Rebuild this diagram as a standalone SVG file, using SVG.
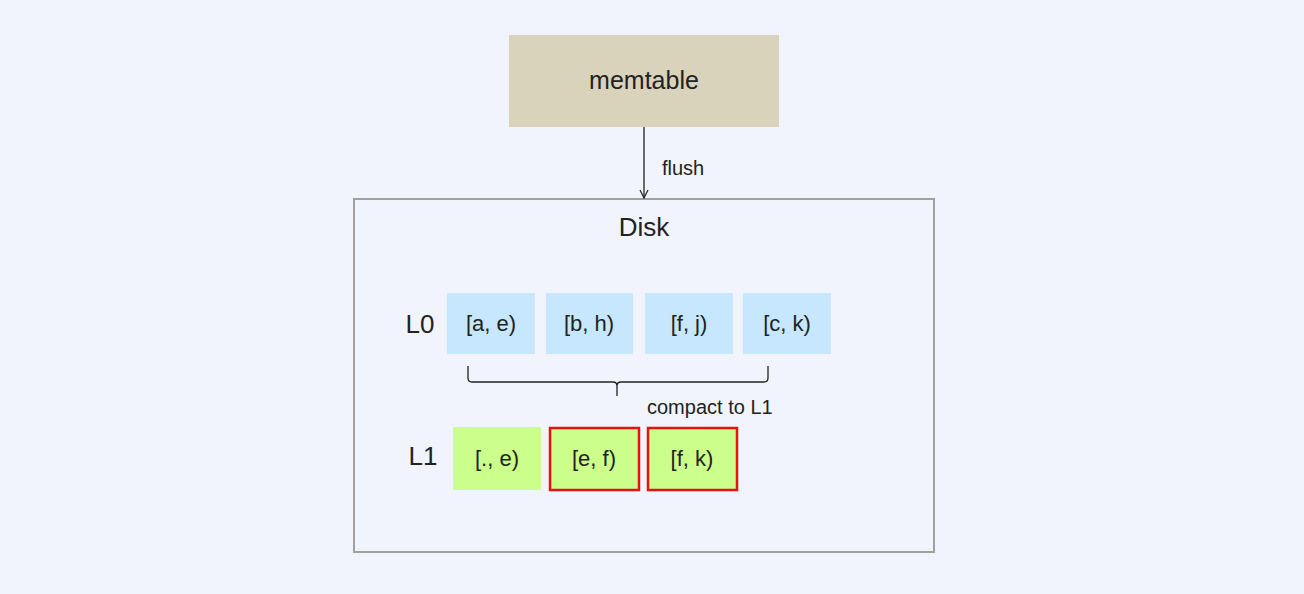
<svg xmlns="http://www.w3.org/2000/svg" width="1304" height="594" viewBox="0 0 1304 594">
<style>
text{font-family:"Liberation Sans",Arial,sans-serif;fill:#222}
.l0{fill:#c6e7fd}
.l1{fill:#ccfe8b}
.sel{stroke:#e81010;stroke-width:2.5}
.t{font-size:22px;text-anchor:middle}
</style>
<defs><marker id="ah" markerWidth="10" markerHeight="10" refX="9" refY="5" orient="auto" markerUnits="userSpaceOnUse"><path d="M1,1 L9,5 L1,9" fill="none" stroke="#222" stroke-width="1.2"/></marker></defs>
<rect width="1304" height="594" fill="#f1f4fc"/>
<g id="memtable"><rect x="509" y="35" width="270" height="92" fill="#d9d3bc"/><text x="644" y="89" class="t" style="font-size:25px">memtable</text></g>
<g id="disk"><rect x="354" y="199" width="580" height="353" fill="none" stroke="#a0a0a0" stroke-width="2"/><text x="644" y="236" class="t" style="font-size:26px">Disk</text></g>
<g id="labels"><text x="420" y="333" class="t" style="font-size:26px">L0</text><text x="423" y="465" class="t" style="font-size:26px">L1</text></g>
<g id="n1"><rect class="l0" x="447" y="293" width="88" height="61"/><text x="491" y="331" class="t">[a, e)</text></g>
<g id="n2"><rect class="l0" x="546" y="293" width="87" height="61"/><text x="589" y="331" class="t">[b, h)</text></g>
<g id="n3"><rect class="l0" x="645" y="293" width="88" height="61"/><text x="689" y="331" class="t">[f, j)</text></g>
<g id="n4"><rect class="l0" x="743" y="293" width="88" height="61"/><text x="787" y="331" class="t">[c, k)</text></g>
<g id="m1"><rect class="l1" x="453" y="427" width="88" height="63"/><text x="497" y="466" class="t">[., e)</text></g>
<g id="m2"><rect class="l1 sel" x="550" y="428" width="89" height="62"/><text x="594" y="466" class="t">[e, f)</text></g>
<g id="m3"><rect class="l1 sel" x="648" y="428" width="89" height="62"/><text x="692" y="466" class="t">[f, k)</text></g>
<g id="connectors" fill="none" stroke="#222" stroke-width="1.3">
<line x1="644" y1="127" x2="644" y2="198" marker-end="url(#ah)"/>
<path d="M468,366 V378 Q468,382 472,382 H613 Q617,382 617,386 V396 M617,386 Q617,382 621,382 H764 Q768,382 768,378 V366"/>
</g>
<text x="662" y="175" style="font-size:20px">flush</text>
<text x="647" y="414" style="font-size:20px">compact to L1</text>
</svg>
